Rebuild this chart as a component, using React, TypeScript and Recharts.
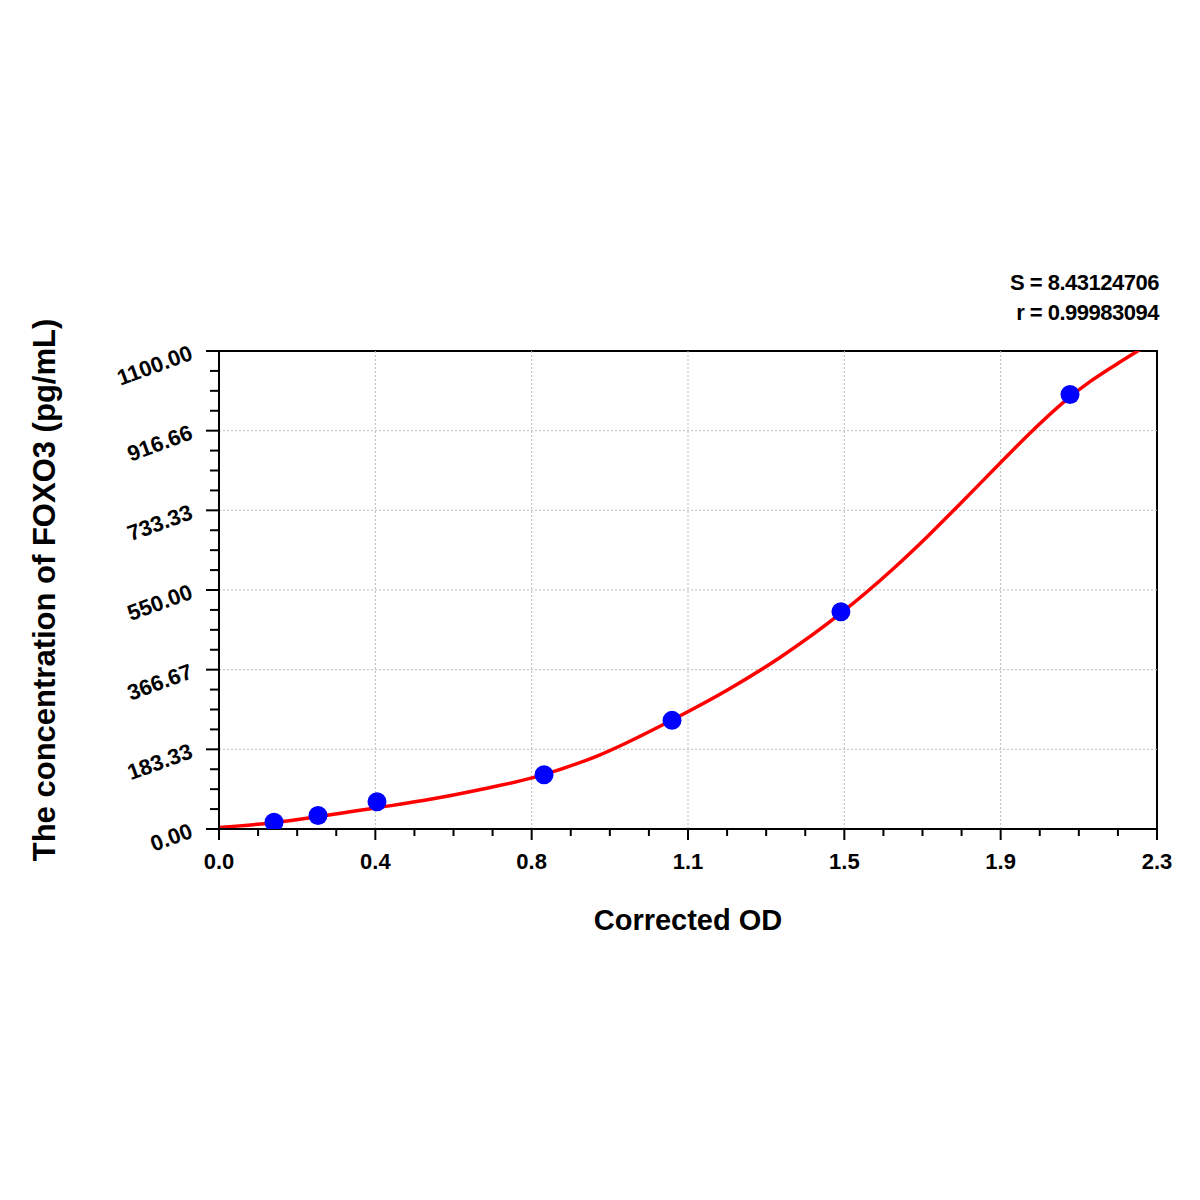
import React from "react";
import {
  ComposedChart,
  Line,
  Scatter,
  XAxis,
  YAxis,
  ReferenceLine,
  ReferenceArea,
} from "recharts";

// ---- data ----
const standardOD = [0.1349, 0.2428, 0.3874, 0.797, 1.1108, 1.525, 2.0867];
const standardConc = [15.63, 31.25, 62.5, 125, 250, 500, 1000];

const curveOD = [
  0, 0.1324, 0.2427, 0.3874, 0.5247, 0.6473, 0.7699, 0.9269, 1.1132, 1.253,
  1.3756, 1.5227, 1.6526, 1.736, 1.8169, 1.915, 1.9959, 2.0866, 2.1357, 2.2019,
  2.2632,
];
const curveConc = [
  3.5, 14.5, 28.3, 48.8, 69.5, 92.1, 118.1, 167.9, 252.0, 323.3, 394.7, 494.8,
  598.3, 672.0, 747.9, 841.8, 917.8, 994.4, 1029.4, 1070.3, 1106.0,
];

const xMajorTicks = [0, 0.38333, 0.76667, 1.15, 1.53333, 1.91667, 2.3];
const xTickLabels = ["0.0", "0.4", "0.8", "1.1", "1.5", "1.9", "2.3"];
const yMajorTicks = [0, 183.333, 366.667, 550, 733.333, 916.66, 1100];
const yTickLabels = ["0.00", "183.33", "366.67", "550.00", "733.33", "916.66", "1100.00"];

const statS = "S = 8.43124706";
const statR = "r = 0.99983094";
const xTitle = "Corrected OD";
const yTitle = "The concentration of FOXO3 (pg/mL)";

// ---- derived ----
const points = standardOD.map((x, i) => ({ x, y: standardConc[i] }));
const curve = curveOD.map((x, i) => ({ x, y: curveConc[i] }));

function withMinors(majors: number[]) {
  const out: number[] = [];
  for (let i = 0; i < majors.length; i++) {
    out.push(majors[i]);
    if (i < majors.length - 1) {
      const step = (majors[i + 1] - majors[i]) / 4;
      for (let k = 1; k < 4; k++) out.push(majors[i] + step * k);
    }
  }
  return out;
}
const xAllTicks = withMinors(xMajorTicks);
const yAllTicks = withMinors(yMajorTicks);

const FONT = "Arial, 'Liberation Sans', Helvetica, sans-serif";

function majorIndex(list: number[], v: number) {
  return list.findIndex((m) => Math.abs(m - v) < 1e-3);
}

const XTick = (props: any) => {
  const { x, y, payload } = props;
  const idx = majorIndex(xMajorTicks, payload.value);
  const major = idx >= 0;
  return (
    <g>
      <line x1={x} y1={y} x2={x} y2={y + (major ? 11 : 7)} stroke="#000" strokeWidth={2} />
      {major && (
        <text
          x={x}
          y={y + 40}
          textAnchor="middle"
          fontFamily={FONT}
          fontWeight="bold"
          fontSize={22}
          fill="#000"
        >
          {xTickLabels[idx]}
        </text>
      )}
    </g>
  );
};

const YTick = (props: any) => {
  const { x, y, payload } = props;
  const idx = majorIndex(yMajorTicks, payload.value);
  const major = idx >= 0;
  const tx = x - 25;
  const ty = y + 8;
  return (
    <g>
      <line x1={x} y1={y} x2={x - (major ? 13 : 9)} y2={y} stroke="#000" strokeWidth={2} />
      {major && (
        <text
          x={tx}
          y={ty}
          textAnchor="end"
          transform={`rotate(-20, ${tx}, ${ty})`}
          fontFamily={FONT}
          fontWeight="bold"
          fontSize={22}
          fill="#000"
        >
          {yTickLabels[idx]}
        </text>
      )}
    </g>
  );
};

const Dot = (props: any) => {
  const { cx, cy } = props;
  if (cx == null || cy == null) return null;
  return <circle cx={cx} cy={cy} r={9.5} fill="#0000ff" />;
};

export default function App() {
  const W = 1184;
  const H = 1184;
  return (
    <div style={{ position: "relative", width: W, height: H, background: "#fff" }}>
      <ComposedChart
        width={W}
        height={H}
        margin={{ top: 343, right: 35, bottom: 303, left: 111 }}
      >
        <XAxis
          type="number"
          dataKey="x"
          domain={[0, 2.3]}
          ticks={xAllTicks}
          interval={0}
          allowDataOverflow
          height={60}
          tickSize={0}
          tickMargin={0}
          tickLine={false}
          axisLine={{ stroke: "#000", strokeWidth: 2 }}
          tick={<XTick />}
        />
        <YAxis
          type="number"
          dataKey="y"
          domain={[0, 1100]}
          ticks={yAllTicks}
          interval={0}
          allowDataOverflow
          width={100}
          tickSize={0}
          tickMargin={0}
          tickLine={false}
          axisLine={{ stroke: "#000", strokeWidth: 2 }}
          tick={<YTick />}
        />
        {xMajorTicks.slice(1, -1).map((v) => (
          <ReferenceLine key={"vx" + v} x={v} stroke="#bdbdbd" strokeDasharray="2 2" strokeWidth={1} />
        ))}
        {yMajorTicks.slice(1, -1).map((v) => (
          <ReferenceLine key={"hy" + v} y={v} stroke="#bdbdbd" strokeDasharray="2 2" strokeWidth={1} />
        ))}
        <ReferenceArea
          x1={0}
          x2={2.3}
          y1={0}
          y2={1100}
          fill="none"
          fillOpacity={0}
          stroke="#000"
          strokeWidth={2}
        />
        <Scatter data={points} dataKey="y" shape={<Dot />} isAnimationActive={false} />
        <Line
          data={curve}
          dataKey="y"
          type="monotone"
          stroke="#ff0000"
          strokeWidth={3.5}
          dot={false}
          activeDot={false}
          isAnimationActive={false}
        />
      </ComposedChart>
      <svg
        width={W}
        height={H}
        style={{ position: "absolute", left: 0, top: 0, pointerEvents: "none" }}
      >
        <text
          x={1151}
          y={282}
          textAnchor="end"
          fontFamily={FONT}
          fontWeight="bold"
          fontSize={22}
          letterSpacing={-0.5}
          fill="#000"
        >
          {statS}
        </text>
        <text
          x={1151}
          y={312}
          textAnchor="end"
          fontFamily={FONT}
          fontWeight="bold"
          fontSize={22}
          letterSpacing={-0.5}
          fill="#000"
        >
          {statR}
        </text>
        <text
          x={680}
          y={922}
          textAnchor="middle"
          fontFamily={FONT}
          fontWeight="bold"
          fontSize={29}
          fill="#000"
        >
          {xTitle}
        </text>
        <text
          x={36}
          y={582}
          textAnchor="middle"
          dominantBaseline="central"
          transform="rotate(-90, 36, 582)"
          fontFamily={FONT}
          fontWeight="bold"
          fontSize={31}
          fill="#000"
        >
          {yTitle}
        </text>
      </svg>
    </div>
  );
}
